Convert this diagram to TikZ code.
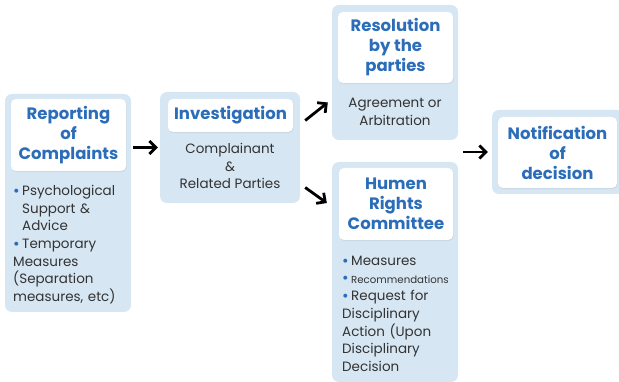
\documentclass[tikz,border=0pt]{standalone}
\usepackage{fontspec}
\setmainfont{Poppins}
\usetikzlibrary{arrows.meta, positioning, shadows}
\definecolor{boxblue}{HTML}{D6E6F3}
\definecolor{titleblue}{HTML}{2B6DB8}
\definecolor{bodygray}{HTML}{333333}
\newcommand{\bulitem}{\par\hangindent=9pt\hangafter=1\noindent\makebox[9pt][l]{\raisebox{-0.6pt}{\textcolor{titleblue}{\fontsize{16}{17.6}\selectfont\textbullet}}}}
\tikzstyle{outer} = [fill=boxblue, rounded corners=7pt, inner sep=0pt]
\tikzstyle{header} = [fill=white, rounded corners=5pt, inner sep=0pt, align=center,
  drop shadow={opacity=0.12, shadow xshift=0.6pt, shadow yshift=-1.2pt},
  text=titleblue, font=\fontsize{16.5}{20}\selectfont\bfseries]
\tikzstyle{body} = [inner sep=0pt, text=bodygray, font=\fontsize{13.5}{17.6}\selectfont]
\tikzstyle{arrow} = [line width=2.8pt, -{Straight Barb[length=6.5pt,width=13pt]}]

\begin{document}
\begin{tikzpicture}[x=1pt,y=-1pt]
  \useasboundingbox (0,0) rectangle (619,382);

  % Reporting of Complaints
  \node[outer, minimum width=126, minimum height=218] (rep) at (68,203) {};
  \node[header, minimum width=115, minimum height=72] (reph) at (68.5,135) {Reporting\\of\\Complaints};
  \node[body, anchor=north west, text width=130, align=left] (repb) at (13,178)
    {\bulitem Psychological\newline Support \&\newline Advice
     \bulitem Temporary\newline Measures\newline (Separation\newline measures, etc)};

  % Investigation
  \node[outer, minimum width=140, minimum height=111] (inv) at (230,147.5) {};
  \node[header, minimum width=125, minimum height=33] (invh) at (230.5,115.5) {Investigation};
  \node[body, align=center] (invb) at (230,166) {Complainant\\\&\\Related Parties};

  % Resolution by the parties
  \node[outer, minimum width=126, minimum height=135] (res) at (395,72.5) {};
  \node[header, minimum width=115, minimum height=71] (resh) at (395.5,47.5) {Resolution\\by the\\parties};
  \node[body, align=center] (resb) at (395,112) {Agreement or\\Arbitration};

  % Humen Rights Committee
  \node[outer, minimum width=126, minimum height=220] (hum) at (395,272) {};
  \node[header, minimum width=114, minimum height=72] (humh) at (396,204) {Humen\\Rights\\Committee};
  \node[body, anchor=north west, text width=130, align=left] (humb) at (342,248)
    {\bulitem Measures
     \bulitem {\fontsize{10.2}{17.6}\selectfont Recommendations}
     \bulitem Request for\newline Disciplinary\newline Action (Upon\newline Disciplinary\newline Decision};

  % Notification of decision
  \node[outer, minimum width=132, minimum height=84] (note) at (558,152) {};
  \node[header, minimum width=119, minimum height=71] (noteh) at (557.5,152.5) {Notification\\of\\decision};

  % Arrows
  \draw[arrow, shorten <=2pt, shorten >=2pt] (rep.east |- inv.center) -- (inv.west);
  \draw[arrow] ([shift={(5,-27)}]inv.east) -- ([shift={(-4,30)}]res.west);
  \draw[arrow] ([shift={(5,40)}]inv.east) -- ([shift={(-5,-69)}]hum.west);
  \draw[arrow, shorten <=5pt, shorten >=4pt] (res.east |- note.west) -- (note.west);
\end{tikzpicture}
\end{document}
